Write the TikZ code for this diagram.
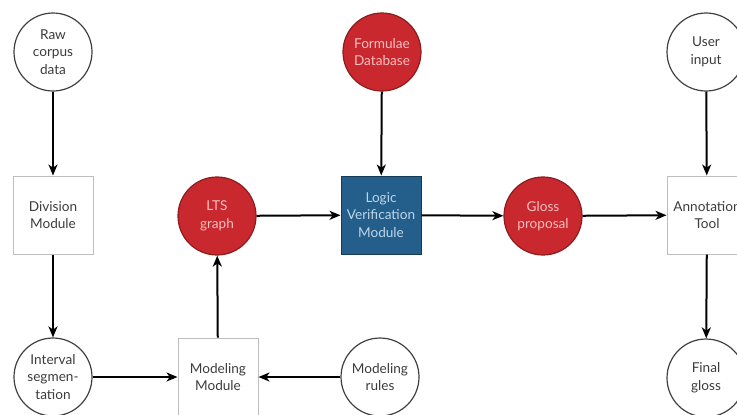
\documentclass[tikz,border=0pt]{standalone}
\usepackage{fontspec}
\setmainfont{Lato}
\usepackage{tikz}
\usetikzlibrary{arrows.meta, shapes.geometric, positioning}
\usepackage{xcolor}
\definecolor{glossred}{RGB}{200,40,46}
\definecolor{glossredline}{RGB}{140,28,30}
\definecolor{glossredtext}{RGB}{242,192,192}
\definecolor{logicblue}{RGB}{36,94,138}
\definecolor{logicblueline}{RGB}{22,58,88}
\definecolor{logicbluetext}{RGB}{190,214,234}
\definecolor{boxgray}{RGB}{190,190,190}
\definecolor{txtgray}{RGB}{60,60,60}

\tikzset{
  base/.style={align=center, inner sep=0pt, text=txtgray,
    font=\fontsize{6.8}{8.8}\selectfont},
  datanode/.style={base, circle, draw=black!75, line width=0.6pt, fill=white,
    minimum size=39pt},
  rednode/.style={datanode, draw=glossredline, fill=glossred, text=glossredtext},
  modbox/.style={base, rectangle, draw=boxgray, line width=0.5pt, fill=white,
    minimum width=40pt, minimum height=39pt},
  bluebox/.style={modbox, draw=logicblueline, fill=logicblue, text=logicbluetext},
  flow/.style={-{Stealth[length=5.5pt,width=4.5pt,inset=1.6pt]}, line width=1pt, black}
}

\begin{document}
\begin{tikzpicture}[x=0.5pt, y=-0.5pt]
\useasboundingbox (0,0) rectangle (737,414);
\clip (0,0) rectangle (737,414);

\node[datanode] (raw) at (53,52) {Raw\\corpus\\data};
\node[modbox] (division) at (53,215) {Division\\Module};
\node[datanode] (interval) at (53,377) {Interval\\segmen-\\tation};
\node[modbox] (modeling) at (218,377) {Modeling\\Module};
\node[datanode] (rules) at (380,377) {Modeling\\rules};
\node[rednode] (lts) at (217,216) {LTS\\graph};
\node[bluebox] (logic) at (381,215) {Logic\\Verification\\Module};
\node[rednode] (formulae) at (382,52) {Formulae\\Database};
\node[rednode] (gloss) at (543,216) {Gloss\\proposal};
\node[datanode] (user) at (706,52) {User\\input};
\node[modbox] (annot) at (707,215) {Annotation\\Tool};
\node[datanode] (final) at (706,378) {Final\\gloss};

\foreach \a/\b in {raw/division, division/interval, interval/modeling,
  rules/modeling, modeling/lts, lts/logic, formulae/logic, logic/gloss,
  gloss/annot, user/annot, annot/final}
  \draw[flow] (\a) -- (\b);
\end{tikzpicture}
\end{document}
